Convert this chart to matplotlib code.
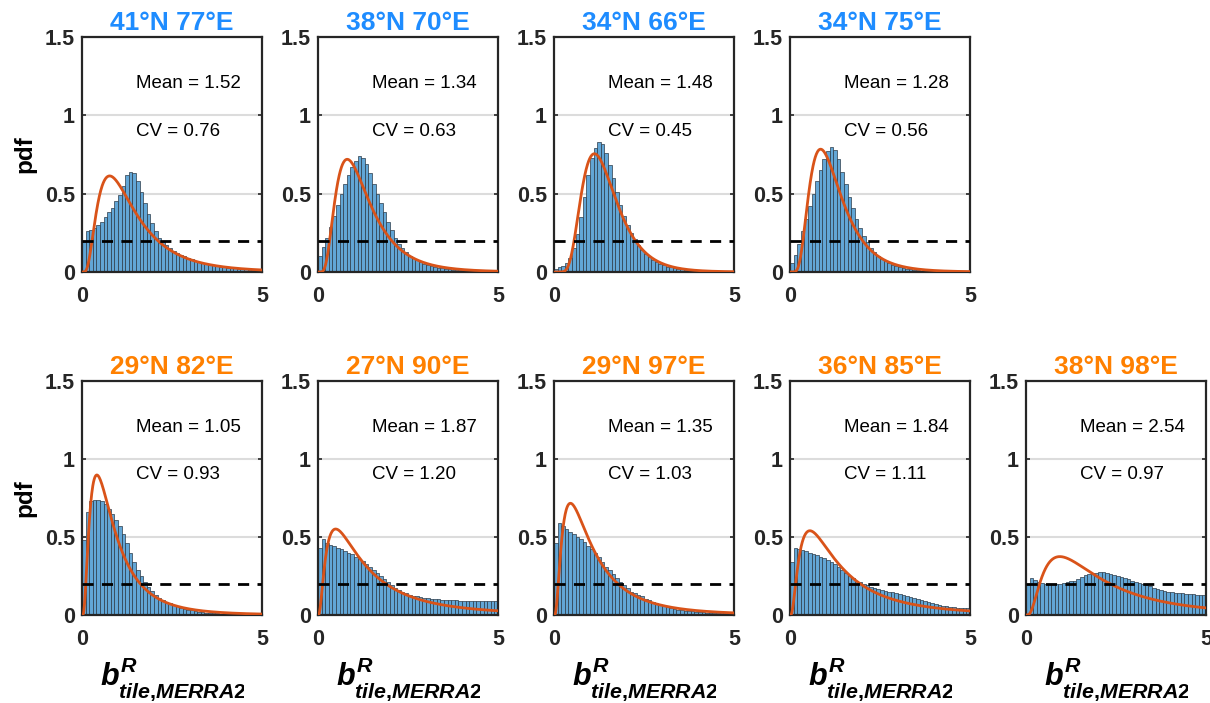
import numpy as np
import matplotlib
matplotlib.use("Agg")
import matplotlib.pyplot as plt
from matplotlib.transforms import Bbox

try:
    import matplotlib._mathtext as _mt
    _mt.FontConstantsBase.sub2 = 0.8
    _mt.FontConstantsBase.sup1 = 0.75
except Exception:
    pass

plt.rcParams['font.family'] = ['Liberation Sans', 'DejaVu Sans']
plt.rcParams['mathtext.fontset'] = 'custom'
plt.rcParams['mathtext.it'] = 'Liberation Sans:italic:bold'
plt.rcParams['mathtext.rm'] = 'Liberation Sans:bold'
plt.rcParams['mathtext.bf'] = 'Liberation Sans:bold'

# ---------------- data ----------------
titles = ["41°N 77°E", "38°N 70°E", "34°N 66°E", "34°N 75°E",
          "29°N 82°E", "27°N 90°E", "29°N 97°E", "36°N 85°E", "38°N 98°E"]
title_colors = ["#1E8CFF"] * 4 + ["#FF8000"] * 5
means = [1.52, 1.34, 1.48, 1.28, 1.05, 1.87, 1.35, 1.84, 2.54]
cvs = [0.76, 0.63, 0.45, 0.56, 0.93, 1.20, 1.03, 1.11, 0.97]

bin_edges = np.round(np.arange(0, 5.0001, 0.1), 2)  # 50 bins of width 0.1
threshold = 0.2

pdf_41N77E = [0.19, 0.26, 0.27, 0.28, 0.30, 0.32, 0.35, 0.38, 0.41, 0.45,
              0.49, 0.55, 0.62, 0.64, 0.63, 0.58, 0.51, 0.44, 0.37, 0.31,
              0.26, 0.22, 0.19, 0.17, 0.15, 0.135, 0.12, 0.11, 0.10, 0.09,
              0.08, 0.072, 0.065, 0.058, 0.052, 0.047, 0.042, 0.038, 0.034, 0.031,
              0.028, 0.025, 0.023, 0.021, 0.019, 0.017, 0.015, 0.014, 0.013, 0.012]
pdf_38N70E = [0.10, 0.16, 0.22, 0.29, 0.36, 0.43, 0.50, 0.56, 0.62, 0.67,
              0.71, 0.74, 0.73, 0.69, 0.63, 0.56, 0.50, 0.44, 0.38, 0.32,
              0.27, 0.22, 0.18, 0.15, 0.125, 0.105, 0.09, 0.075, 0.063, 0.053,
              0.045, 0.038, 0.032, 0.027, 0.023, 0.019, 0.016, 0.014, 0.012, 0.010,
              0.009, 0.008, 0.007, 0.006, 0.005, 0.005, 0.004, 0.004, 0.003, 0.003]
pdf_34N66E = [0.02, 0.03, 0.04, 0.06, 0.09, 0.15, 0.24, 0.35, 0.48, 0.62,
              0.73, 0.79, 0.83, 0.82, 0.76, 0.68, 0.60, 0.51, 0.43, 0.36,
              0.30, 0.25, 0.21, 0.17, 0.14, 0.115, 0.095, 0.078, 0.064, 0.052,
              0.043, 0.035, 0.029, 0.024, 0.020, 0.016, 0.013, 0.011, 0.009, 0.007,
              0.006, 0.005, 0.004, 0.004, 0.003, 0.003, 0.002, 0.002, 0.002, 0.002]
pdf_34N75E = [0.06, 0.11, 0.18, 0.26, 0.34, 0.42, 0.50, 0.58, 0.65, 0.72,
              0.77, 0.80, 0.78, 0.72, 0.64, 0.56, 0.48, 0.41, 0.34, 0.28,
              0.23, 0.19, 0.155, 0.125, 0.10, 0.083, 0.068, 0.056, 0.046, 0.038,
              0.031, 0.025, 0.021, 0.017, 0.014, 0.011, 0.009, 0.008, 0.006, 0.005,
              0.004, 0.004, 0.003, 0.003, 0.002, 0.002, 0.002, 0.001, 0.001, 0.001]
pdf_29N82E = [0.48, 0.66, 0.73, 0.74, 0.74, 0.73, 0.71, 0.68, 0.65, 0.61,
              0.57, 0.52, 0.46, 0.40, 0.34, 0.29, 0.25, 0.21, 0.18, 0.155,
              0.13, 0.11, 0.097, 0.085, 0.074, 0.064, 0.055, 0.048, 0.041, 0.035,
              0.030, 0.025, 0.021, 0.018, 0.015, 0.013, 0.011, 0.010, 0.008, 0.007,
              0.006, 0.005, 0.005, 0.004, 0.004, 0.003, 0.003, 0.003, 0.002, 0.002]
pdf_27N90E = [0.43, 0.49, 0.46, 0.45, 0.44, 0.43, 0.42, 0.41, 0.40, 0.39,
              0.375, 0.36, 0.345, 0.33, 0.31, 0.29, 0.27, 0.25, 0.23, 0.21,
              0.19, 0.175, 0.16, 0.15, 0.14, 0.13, 0.125, 0.12, 0.115, 0.11,
              0.107, 0.104, 0.102, 0.10, 0.098, 0.096, 0.095, 0.094, 0.093, 0.092,
              0.091, 0.091, 0.09, 0.09, 0.09, 0.09, 0.09, 0.09, 0.09, 0.09]
pdf_29N97E = [0.46, 0.59, 0.57, 0.55, 0.53, 0.52, 0.50, 0.49, 0.47, 0.44,
              0.42, 0.40, 0.37, 0.34, 0.31, 0.29, 0.26, 0.24, 0.21, 0.19,
              0.17, 0.15, 0.14, 0.13, 0.12, 0.105, 0.095, 0.085, 0.075, 0.065,
              0.057, 0.05, 0.044, 0.039, 0.035, 0.031, 0.028, 0.025, 0.023, 0.021,
              0.019, 0.017, 0.016, 0.015, 0.014, 0.013, 0.012, 0.011, 0.010, 0.010]
pdf_36N85E = [0.34, 0.43, 0.42, 0.415, 0.41, 0.40, 0.39, 0.385, 0.375, 0.365,
              0.355, 0.34, 0.325, 0.31, 0.29, 0.27, 0.25, 0.235, 0.22, 0.21,
              0.20, 0.19, 0.18, 0.17, 0.165, 0.16, 0.155, 0.15, 0.145, 0.14,
              0.135, 0.13, 0.125, 0.117, 0.11, 0.105, 0.098, 0.09, 0.083, 0.076,
              0.07, 0.065, 0.06, 0.056, 0.053, 0.05, 0.048, 0.046, 0.045, 0.044]
pdf_38N98E = [0.20, 0.235, 0.225, 0.21, 0.205, 0.20, 0.20, 0.20, 0.20, 0.20,
              0.205, 0.21, 0.215, 0.22, 0.23, 0.245, 0.255, 0.262, 0.268, 0.272,
              0.275, 0.273, 0.268, 0.262, 0.256, 0.25, 0.243, 0.235, 0.228, 0.22,
              0.213, 0.205, 0.198, 0.19, 0.183, 0.175, 0.168, 0.16, 0.153, 0.148,
              0.145, 0.143, 0.141, 0.139, 0.137, 0.135, 0.133, 0.131, 0.13, 0.128]

hists = [pdf_41N77E, pdf_38N70E, pdf_34N66E, pdf_34N75E,
         pdf_29N82E, pdf_27N90E, pdf_29N97E, pdf_36N85E, pdf_38N98E]

yticks = [0, 0.5, 1, 1.5]
ytick_labels = ["0", "0.5", "1", "1.5"]
xticks = [0, 5]
xtick_labels = ["0", "5"]
xlabel_text = r"$b^{R}_{tile{,}MERRA2}$"


def lognormal_pdf(x, mean, cv):
    s2 = np.log(1 + cv ** 2)
    mu = np.log(mean) - s2 / 2
    y = np.zeros_like(x)
    pos = x > 0
    y[pos] = np.exp(-(np.log(x[pos]) - mu) ** 2 / (2 * s2)) / (x[pos] * np.sqrt(2 * np.pi * s2))
    return y


# ---------------- layout ----------------
W, H = 1210, 703
fig = plt.figure(figsize=(W / 100, H / 100), dpi=100)

col_left = [82, 318, 554, 790, 1026]
ax_w = 180
rows = [(37, 272), (381, 615)]
positions = [(0, c) for c in range(4)] + [(1, c) for c in range(5)]

bar_face = "#62A6D6"
bar_edge = "#2b3a48"
curve_col = "#D95319"
frame_col = "#262626"

for k, (r, c) in enumerate(positions):
    top, bot = rows[r]
    ax = fig.add_axes([col_left[c] / W, (H - bot) / H, ax_w / W, (bot - top) / H])
    centers = (bin_edges[:-1] + bin_edges[1:]) / 2
    ax.bar(centers, hists[k], width=0.1, color=bar_face, edgecolor=bar_edge,
           linewidth=0.5, zorder=2)
    xx = np.linspace(0, 5, 500)
    ax.plot(xx, lognormal_pdf(xx, means[k], cvs[k]), color=curve_col, lw=2, zorder=3)
    ax.axhline(threshold, color="black", lw=2, dashes=(4, 3), zorder=4)
    ax.set_xlim(0, 5)
    ax.set_ylim(0, 1.5)
    ax.set_yticks(yticks)
    ax.set_yticklabels(ytick_labels)
    ax.set_xticks(xticks)
    ax.set_xticklabels(xtick_labels)
    ax.grid(axis='y', color="#dcdcdc", lw=1.5, zorder=0)
    ax.set_axisbelow(True)
    ax.tick_params(direction='in', top=True, right=True, length=3, width=1.2,
                   color=frame_col, labelsize=15.5)
    ax.tick_params(axis='y', pad=5)
    ax.tick_params(axis='x', pad=10)
    for lab in ax.get_xticklabels() + ax.get_yticklabels():
        lab.set_fontweight('bold')
        lab.set_color(frame_col)
    for sp in ax.spines.values():
        sp.set_color(frame_col)
        sp.set_linewidth(1.6)
    ax.set_title(titles[k], color=title_colors[k], fontsize=19,
                 fontweight='bold', pad=5)
    ax.text(1.5, 1.2, f"Mean = {means[k]:.2f}", fontsize=13.5, va='center', ha='left')
    ax.text(1.5, 0.9, f"CV = {cvs[k]:.2f}", fontsize=13.5, va='center', ha='left')
    if c == 0:
        ax.set_ylabel("pdf", fontsize=17.5, fontweight='bold', labelpad=6)
    if r == 1:
        cx = col_left[c] + ax_w / 2
        t = fig.text((cx + 1) / W, 1 - 685 / H, xlabel_text, fontsize=22,
                     ha='center', va='baseline', color='black')
        t.set_clip_box(Bbox.from_extents(0, 0, cx + 72, H))
        t.set_clip_on(True)

fig.savefig("out.png", dpi=100)
